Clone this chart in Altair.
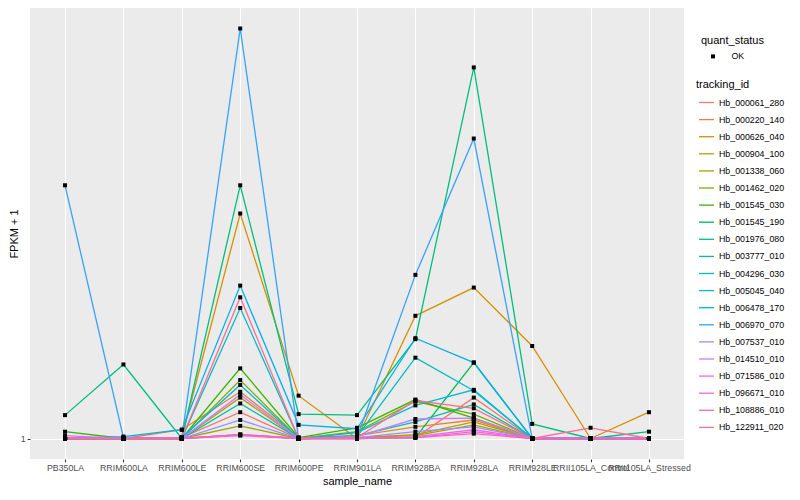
import altair as alt
import pandas as pd

samples = ["PB350LA", "RRIM600LA", "RRIM600LE", "RRIM600SE", "RRIM600PE", "RRIM901LA",
           "RRIM928BA", "RRIM928LA", "RRIM928LE", "RRII105LA_Control", "RRII105LA_Stressed"]

tracking_ids = ["Hb_000061_280", "Hb_000220_140", "Hb_000626_040", "Hb_000904_100",
                "Hb_001338_060", "Hb_001462_020", "Hb_001545_030", "Hb_001545_190",
                "Hb_001976_080", "Hb_003777_010", "Hb_004296_030", "Hb_005045_040",
                "Hb_006478_170", "Hb_006970_070", "Hb_007537_010", "Hb_014510_010",
                "Hb_071586_010", "Hb_096671_010", "Hb_108886_010", "Hb_122911_020"]

hue_colors = ["#F8766D", "#EA8331", "#D89000", "#C09B00", "#A3A500", "#7CAE00", "#39B600",
              "#00BB4E", "#00BF7D", "#00C1A3", "#00BFC4", "#00BAE0", "#00B0F6", "#35A2FF",
              "#9590FF", "#C77CFF", "#E76BF3", "#FA62DB", "#FF62BC", "#FF6C91"]

# FPKM values per gene, in the order of `samples`
fpkm_000061_280 = [0, 0, 1, 27, 0, 1, 1, 42, 0, 0, 0]
fpkm_000220_140 = [0, 0, 9, 48, 1, 3, 12, 19, 0, 0, 0]
fpkm_000626_040 = [0, 0, 1, 231, 44, 0, 126, 155, 95, 0, 27]
fpkm_000904_100 = [0, 0, 0, 42, 0, 1, 4, 17, 0, 0, 0]
fpkm_001338_060 = [0, 0, 0, 13, 0, 1, 3, 14, 0, 0, 0]
fpkm_001462_020 = [0, 0, 0, 60, 0, 7, 38, 25, 0, 0, 0]
fpkm_001545_030 = [7, 0, 0, 72, 1, 11, 40, 21, 0, 0, 0]
fpkm_001545_190 = [0, 0, 0, 4, 0, 0, 1, 78, 0, 0, 0]
fpkm_001976_080 = [24, 76, 0, 260, 25, 24, 102, 381, 15, 0, 7]
fpkm_003777_010 = [0, 0, 0, 36, 0, 3, 17, 35, 0, 0, 0]
fpkm_004296_030 = [0, 0, 0, 134, 0, 2, 83, 49, 0, 0, 0]
fpkm_005045_040 = [0, 0, 1, 55, 0, 6, 34, 50, 0, 0, 0]
fpkm_006478_170 = [0, 2, 9, 157, 14, 10, 103, 78, 0, 0, 0]
fpkm_006970_070 = [260, 1, 1, 421, 0, 1, 168, 308, 0, 0, 0]
fpkm_007537_010 = [0, 0, 0, 19, 0, 1, 7, 12, 0, 0, 0]
fpkm_014510_010 = [3, 0, 0, 45, 0, 2, 20, 21, 0, 0, 0]
fpkm_071586_010 = [1, 0, 0, 4, 0, 0, 2, 9, 0, 0, 0]
fpkm_096671_010 = [0, 0, 0, 4, 0, 0, 1, 7, 0, 0, 0]
fpkm_108886_010 = [0, 0, 0, 3, 0, 0, 1, 5, 0, 0, 0]
fpkm_122911_020 = [0, 0, 0, 145, 0, 1, 39, 31, 0, 11, 0]

all_fpkm = [fpkm_000061_280, fpkm_000220_140, fpkm_000626_040, fpkm_000904_100,
            fpkm_001338_060, fpkm_001462_020, fpkm_001545_030, fpkm_001545_190,
            fpkm_001976_080, fpkm_003777_010, fpkm_004296_030, fpkm_005045_040,
            fpkm_006478_170, fpkm_006970_070, fpkm_007537_010, fpkm_014510_010,
            fpkm_071586_010, fpkm_096671_010, fpkm_108886_010, fpkm_122911_020]

rows = []
for tid, vals in zip(tracking_ids, all_fpkm):
    for i, (s, v) in enumerate(zip(samples, vals)):
        rows.append({"tracking_id": tid, "sample_name": s, "idx": i,
                     "fpkm_plus1": v + 1, "quant_status": "OK"})
df = pd.DataFrame(rows)

FONT = "Liberation Sans"

x_enc = alt.X("sample_name:N", sort=samples,
              scale=alt.Scale(type="point", padding=0.6),
              axis=alt.Axis(title="sample_name", labelAngle=0, labelOverlap=False,
                            labelFlush=False, labelBound=False, grid=True,
                            gridColor="white", gridWidth=1.07, titlePadding=3))
y_enc = alt.Y("fpkm_plus1:Q",
              scale=alt.Scale(domain=[-20.05, 443.05], nice=False, zero=False),
              axis=alt.Axis(title="FPKM + 1", values=[1], format="d", grid=True,
                            gridColor="white", gridWidth=1.07, titlePadding=1))

lines = alt.Chart(df).mark_line(strokeWidth=1.3).encode(
    x=x_enc, y=y_enc,
    color=alt.Color("tracking_id:N",
                    scale=alt.Scale(domain=tracking_ids, range=hue_colors),
                    legend=alt.Legend(title="tracking_id", orient="none",
                                      legendX=666, legendY=71,
                                      symbolType="stroke", symbolSize=225,
                                      symbolStrokeWidth=1.3, symbolOffset=2,
                                      rowPadding=3.1, titlePadding=4, labelOffset=4)),
    order="idx:O",
)

points = alt.Chart(df).mark_point(shape="square", filled=True, color="black",
                                  size=16, opacity=1).encode(
    x=x_enc, y=y_enc,
    shape=alt.Shape("quant_status:N", scale=alt.Scale(range=["square"]),
                    legend=alt.Legend(title="quant_status", orient="none",
                                      legendX=671, legendY=27,
                                      symbolSize=16, symbolFillColor="black",
                                      symbolStrokeWidth=0, symbolOffset=7.6,
                                      labelOffset=14, titlePadding=6)),
)

chart = alt.layer(lines, points).properties(
    width=654, height=451,
    padding={"left": 22, "top": 0, "right": 108, "bottom": 28},
    autosize=alt.AutoSizeParams(type="none"),
).configure_view(
    fill="#EBEBEB", strokeWidth=0
).configure_axis(
    domain=False, tickColor="#333333", tickSize=2.75, tickWidth=1.07,
    labelColor="#4D4D4D", labelFontSize=8.8, labelFont=FONT, labelPadding=2,
    titleFont=FONT, titleFontSize=11, titleColor="black", titleFontWeight="normal",
).configure_legend(
    labelFont=FONT, labelFontSize=8.8, labelColor="black",
    titleFont=FONT, titleFontSize=11, titleColor="black", titleFontWeight="normal",
    padding=0,
)

chart.save("out.html", embed_options={"renderer": "svg", "actions": False})
